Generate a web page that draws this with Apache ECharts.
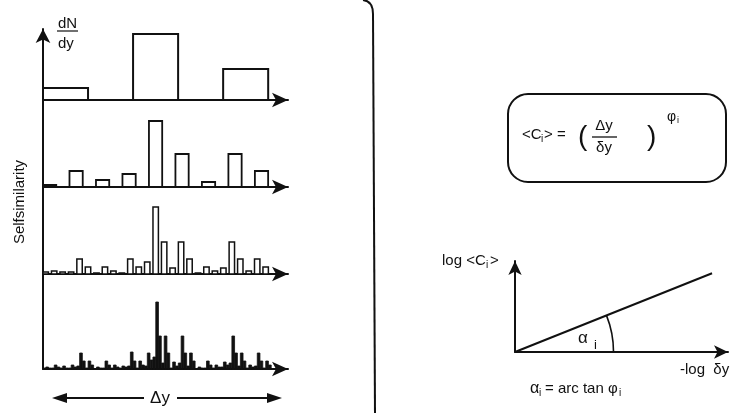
<!DOCTYPE html>
<html>
<head>
<meta charset="utf-8">
<script src="https://cdn.jsdelivr.net/npm/echarts@6/dist/echarts.min.js"></script>
<style>
  html, body { margin: 0; padding: 0; background: #fff; }
  #chart { width: 745px; height: 413px; }
</style>
</head>
<body>
<div id="chart"></div>
<script>
// Multiplicative cascade: density dN/dy per cell at four successive resolutions
const level1 = [12, 0, 66, 0, 31];
const level2 = [2, 16, 7, 13, 66, 33, 5, 33, 16];
const level3 = [2, 3, 2, 2, 15, 7, 1, 7, 3, 1, 15, 7, 12, 67, 32, 6, 32, 15, 1, 7, 3, 6, 32, 15, 3, 15, 7];
const level4 = [
  1, 2, 1,   1, 4, 2,   1, 3, 1,   1, 4, 2,   3, 16, 8,  1, 8, 4,   0.5, 2, 1, 1, 8, 4,   1, 4, 2,
  1, 3, 2,   3, 17, 8,  1, 8, 4,   3, 16, 9,  12, 67, 33, 6, 33, 16, 1, 7, 3,   6, 33, 16, 3, 16, 8,
  0.5, 2, 1, 1, 8, 4,   1, 4, 2,   2, 7, 4,   6, 33, 16, 3, 16, 8,  1, 4, 2,   3, 16, 8,  1, 8, 4
];

// Scaling law: log<C_i> against -log(delta y), slope phi_i
const minusLogDelta = [0, 1];
const logMoment = [0, 0.4];

const INK = '#111';
const FAMILY = '"Liberation Sans", Arial, Helvetica, sans-serif';

// panel layout: baseline y, number of cells visible along the axis, bar width as cell fraction
const panels = [
  { data: level1, baseline: 100, span: 5.44, frac: 1.0, fill: '#fff', lw: 2 },
  { data: level2, baseline: 187, span: 9.25, frac: 0.5, fill: '#fff', lw: 1.8 },
  { data: level3, baseline: 274, span: 28.96, frac: 0.64, fill: '#fff', lw: 1.5 },
  { data: level4, baseline: 369, span: 86.9, frac: 0.95, fill: INK, lw: 0.8 }
];
const PANEL_H = 70;

const grids = [], xAxes = [], yAxes = [], series = [];

function barRenderer(frac, fill, lw) {
  return function (params, api) {
    const i = api.value(0), v = api.value(1);
    if (!v) return null;
    const p0 = api.coord([i, 0]);
    const p1 = api.coord([i + frac, v]);
    return {
      type: 'rect',
      shape: { x: p0[0], y: p1[1], width: p1[0] - p0[0], height: p0[1] - p1[1] },
      style: { fill: fill, stroke: INK, lineWidth: lw }
    };
  };
}

panels.forEach((p, k) => {
  grids.push({ left: 43, width: 245, top: p.baseline - PANEL_H, height: PANEL_H });
  xAxes.push({
    gridIndex: k, type: 'value', min: 0, max: p.span,
    axisLine: { show: true, onZero: false, symbol: ['none', 'arrow'], symbolSize: [11, 16],
                lineStyle: { color: INK, width: 2 } },
    axisTick: { show: false }, axisLabel: { show: false }, splitLine: { show: false }
  });
  yAxes.push({ gridIndex: k, type: 'value', min: 0, max: PANEL_H, show: false });
  series.push({
    type: 'custom', xAxisIndex: k, yAxisIndex: k, silent: true,
    renderItem: barRenderer(p.frac, p.fill, p.lw),
    data: p.data.map((v, i) => [i, v]),
    z: 1
  });
});

// shared ordinate dN/dy for the four panels
grids.push({ left: 43, width: 245, top: 29, height: 340 });
xAxes.push({ gridIndex: 4, type: 'value', min: 0, max: 1, show: false });
yAxes.push({
  gridIndex: 4, type: 'value', min: 0, max: 1,
  axisLine: { show: true, symbol: ['none', 'arrow'], symbolSize: [11, 14],
              lineStyle: { color: INK, width: 2 } },
  axisTick: { show: false }, axisLabel: { show: false }, splitLine: { show: false }
});

// log-log scaling plot
grids.push({ left: 515, top: 261, width: 213, height: 91 });
xAxes.push({
  gridIndex: 5, type: 'value', min: 0, max: 1.081,
  axisLine: { show: true, onZero: false, symbol: ['none', 'arrow'], symbolSize: [10, 14],
              lineStyle: { color: INK, width: 2 } },
  axisTick: { show: false }, axisLabel: { show: false }, splitLine: { show: false }
});
yAxes.push({
  gridIndex: 5, type: 'value', min: 0, max: 0.462,
  axisLine: { show: true, onZero: false, symbol: ['none', 'arrow'], symbolSize: [10, 14],
              lineStyle: { color: INK, width: 2 } },
  axisTick: { show: false }, axisLabel: { show: false }, splitLine: { show: false }
});
series.push({
  type: 'line', xAxisIndex: 5, yAxisIndex: 5, silent: true, symbol: 'none',
  lineStyle: { color: INK, width: 2 },
  data: minusLogDelta.map((x, i) => [x, logMoment[i]])
});
// angle alpha_i between the slope and the abscissa
series.push({
  type: 'custom', xAxisIndex: 5, yAxisIndex: 5, silent: true,
  data: [[0, 0]],
  renderItem: function (params, api) {
    const o = api.coord([0, 0]);
    const e = api.coord([minusLogDelta[1], logMoment[1]]);
    const ang = Math.atan2(e[1] - o[1], e[0] - o[0]);
    const r = api.size([0.5, 0])[0];
    return {
      type: 'arc',
      shape: { cx: o[0], cy: o[1], r: r, startAngle: ang, endAngle: 0, clockwise: true },
      style: { stroke: INK, fill: null, lineWidth: 1.6 }
    };
  }
});

function txt(x, y, s, size, extra) {
  return {
    type: 'text', x: x, y: y,
    style: Object.assign({ text: s, fontSize: size, fontFamily: FAMILY, fontWeight: 'normal',
                           fill: INK, textAlign: 'left', textVerticalAlign: 'middle' }, extra || {})
  };
}

const graphic = [
  // ordinate label dN/dy
  txt(58, 24, 'dN', 15),
  { type: 'line', shape: { x1: 57, y1: 31, x2: 78, y2: 31 }, style: { stroke: INK, lineWidth: 1.2 } },
  txt(58, 44, 'dy', 15),
  // rotated axis title, reading upward
  { type: 'text', x: 20, y: 202, rotation: Math.PI / 2,
    style: { text: 'Selfsimilarity', fontSize: 15, fontFamily: FAMILY, fill: INK,
             textAlign: 'center', textVerticalAlign: 'middle' } },
  // Δy span arrow
  { type: 'line', shape: { x1: 60, y1: 398, x2: 144, y2: 398 }, style: { stroke: INK, lineWidth: 2 } },
  { type: 'line', shape: { x1: 177, y1: 398, x2: 274, y2: 398 }, style: { stroke: INK, lineWidth: 2 } },
  { type: 'polygon', shape: { points: [[52, 398], [67, 393], [67, 403]] }, style: { fill: INK } },
  { type: 'polygon', shape: { points: [[282, 398], [267, 393], [267, 403]] }, style: { fill: INK } },
  txt(160, 398, 'Δy', 17, { textAlign: 'center' }),

  // divider between the two halves
  { type: 'bezierCurve', shape: { x1: 363, y1: 0, cpx1: 373, cpy1: 1, x2: 373, y2: 14 },
    style: { stroke: INK, fill: null, lineWidth: 2 } },
  { type: 'line', shape: { x1: 373, y1: 14, x2: 375, y2: 413 }, style: { stroke: INK, lineWidth: 2 } },

  // moment relation box
  { type: 'rect', shape: { x: 508, y: 94, width: 218, height: 88, r: 20 }, style: { stroke: INK, fill: null, lineWidth: 2 } },
  txt(522, 135, '<C', 15),
  txt(541, 139, 'i', 10),
  txt(544, 135, '> =', 15),
  txt(578, 137, '(', 28, { fontWeight: 'lighter' }),
  txt(604, 126, 'Δy', 15, { textAlign: 'center' }),
  { type: 'line', shape: { x1: 592, y1: 137, x2: 617, y2: 137 }, style: { stroke: INK, lineWidth: 1.3 } },
  txt(604, 148, 'δy', 15, { textAlign: 'center' }),
  txt(647, 137, ')', 28, { fontWeight: 'lighter' }),
  txt(667, 117, 'φ', 14),
  txt(677, 121, 'i', 9),

  // scaling plot labels
  txt(442, 261, 'log <C', 15),
  txt(486, 265, 'i', 10),
  txt(490, 261, '>', 15),
  txt(578, 338, 'α', 17),
  txt(594, 345, 'i', 13),
  txt(680, 370, '-log  δy', 15),
  txt(530, 389, 'α', 16),
  txt(539, 393, 'i', 10),
  txt(545, 389, '= arc tan φ', 15),
  txt(619, 393, 'i', 10)
];

const chart = echarts.init(document.getElementById('chart'), null, { renderer: 'canvas' });
chart.setOption({
  animation: false,
  backgroundColor: '#fff',
  grid: grids,
  xAxis: xAxes,
  yAxis: yAxes,
  series: series,
  graphic: graphic
});
</script>
</body>
</html>
